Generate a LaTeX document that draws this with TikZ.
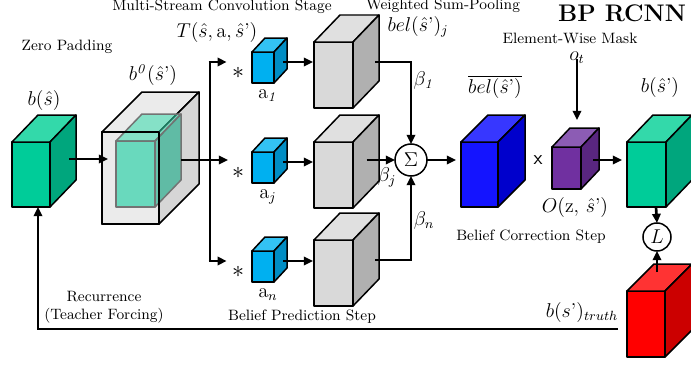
\documentclass[tikz,border=0pt]{standalone}
\usepackage{amsmath,amssymb}
\usepackage{tikz}
\usetikzlibrary{positioning,arrows.meta,calc}

\definecolor{tealF}{RGB}{0,204,153}
\definecolor{tealT}{RGB}{51,217,170}
\definecolor{tealS}{RGB}{0,166,125}
\definecolor{padF}{RGB}{235,235,235}
\definecolor{padS}{RGB}{214,214,214}
\definecolor{cyanF}{RGB}{0,176,240}
\definecolor{cyanT}{RGB}{51,194,243}
\definecolor{cyanS}{RGB}{0,141,196}
\definecolor{grayF}{RGB}{217,217,217}
\definecolor{grayT}{RGB}{224,224,224}
\definecolor{grayS}{RGB}{176,176,176}
\definecolor{blueF}{RGB}{20,20,255}
\definecolor{blueT}{RGB}{55,55,255}
\definecolor{blueS}{RGB}{0,0,204}
\definecolor{purpF}{RGB}{112,48,160}
\definecolor{purpT}{RGB}{140,92,180}
\definecolor{purpS}{RGB}{89,38,128}
\definecolor{redF}{RGB}{255,0,0}
\definecolor{redT}{RGB}{255,51,51}
\definecolor{redS}{RGB}{204,0,0}

\tikzset{
  >={Triangle[length=5.5pt,width=5pt]},
  cubeline/.style={draw=black,line width=0.9pt,line join=round},
  cubefront/.style={rectangle,cubeline,inner sep=0pt,outer sep=0pt},
  cubesz/.style 2 args={minimum width=#1*0.6pt,minimum height=#2*0.6pt},
  ghostline/.style={draw=black!55,line width=0.9pt,line join=round,fill opacity=0.55},
  flow/.style={->,line width=1.6pt},
  wire/.style={line width=1.6pt},
  steplbl/.style={font=\small,inner sep=1pt},
  mathlbl/.style={font=\large,inner sep=1pt},
  opnode/.style={circle,draw=black,line width=0.9pt,inner sep=0pt,fill=white,
    font=\large,outer sep=0pt},
}

% top and side faces behind a front face node
\newcommand{\cubeback}[6][cubeline]{%
  \draw[#1,fill=#5] (#2.north west) -- ++(#3,#4)
    -- ($(#2.north east)+(#3,#4)$) -- (#2.north east) -- cycle;
  \draw[#1,fill=#6] (#2.north east) -- ($(#2.north east)+(#3,#4)$)
    -- ($(#2.south east)+(#3,#4)$) -- (#2.south east) -- cycle;
}

\begin{document}
\begin{tikzpicture}[x=0.6pt,y=-0.6pt]
  \useasboundingbox (0,0) rectangle (691,367);

  % titles
  \node[steplbl] (ttlconv) at (222,7) {Multi-Stream Convolution Stage};
  \node[steplbl] (ttlpool) at (443,6) {Weighted Sum-Pooling};
  \node[font=\Large\bfseries,inner sep=1pt] (ttlbp) at (622,13) {BP RCNN};
  \node[steplbl] (ttlpad) at (67,47) {Zero Padding};

  % input belief
  \node[cubefront,cubesz={38}{65},fill=tealF] (bs) at (31,174.5) {};
  \cubeback{bs}{26}{-27}{tealT}{tealS}
  \node[mathlbl] (lbs) at (44,100) {$b(\hat{s})$};

  % zero padding
  \node[cubefront,cubesz={57}{92},fill=padF] (pad) at (130.5,178) {};
  \cubeback{pad}{40}{-40}{padF}{padS}
  \node[cubefront,cubesz={39}{66},ghostline,fill=tealF] (padin) at (135.5,174) {};
  \cubeback[ghostline]{padin}{26}{-27}{tealT}{tealS}
  \draw[cubeline] (pad.north west) rectangle (pad.south east);
  \node[mathlbl] (lb0) at (153,75) {$b^{\mathit{0}}(\hat{s}\text{'})$};
  \node[mathlbl] (lT) at (217,32) {$T(\hat{s},\mathrm{a},\hat{s}\text{'})$};

  % action kernels
  \foreach \k/\yy/\sub in {1/67.5/\mathit{1},j/167.5/j,n/266.5/n}{
    \node[cubefront,cubesz={22}{31},fill=cyanF] (a\k) at (263,\yy) {};
    \cubeback{a\k}{13}{-14}{cyanT}{cyanS}
    \node[mathlbl,below=3pt of a\k,xshift=3pt] (la\k) {$\mathrm{a}_{\sub}$};
    \node[font=\Large,inner sep=1pt] (ast\k) at (238,\yy+5) {$*$};
  }

  % predicted beliefs
  \foreach \k/\yy in {1/75,j/175,n/273}{
    \node[cubefront,cubesz={39}{66},fill=grayF] (g\k) at (333.5,\yy) {};
    \cubeback{g\k}{26}{-27}{grayT}{grayS}
  }
  \node[mathlbl] (lbel) at (418,27) {$bel(\hat{s}\text{'})_j$};

  % pooling
  \node[opnode,minimum size=19.2pt] (sig) at (411,160) {$\Sigma$};
  \node[mathlbl] (lbt1) at (424,80) {$\beta_{\mathit{1}}$};
  \node[mathlbl] (lbtj) at (387,177) {$\beta_j$};
  \node[mathlbl] (lbtn) at (424,221) {$\beta_n$};

  % correction
  \node[cubefront,cubesz={37}{65},fill=blueF] (blu) at (479.5,174.5) {};
  \cubeback{blu}{27}{-27}{blueT}{blueS}
  \node[mathlbl] (lbar) at (495,87) {$\overline{bel(\hat{s}\text{'})}$};
  \node[font=\large\sffamily,inner sep=1pt] (times) at (538,160) {x};
  \node[cubefront,cubesz={29}{42},fill=purpF] (obs) at (566.5,168) {};
  \cubeback{obs}{18}{-19}{purpT}{purpS}
  \node[steplbl] (ttlmask) at (570,38) {Element-Wise Mask};
  \node[mathlbl] (ot) at (577,58) {$o_t$};
  \node[mathlbl] (lO) at (575,207) {$O(\mathrm{z},\,\hat{s}\text{'})$};
  \node[steplbl] (ttlcor) at (531,237) {Belief Correction Step};
  \node[steplbl] (ttlpred) at (302,317) {Belief Prediction Step};

  % output and target
  \node[cubefront,cubesz={39}{65},fill=tealF] (bsp) at (646.5,174.5) {};
  \cubeback{bsp}{26}{-27}{tealT}{tealS}
  \node[mathlbl] (lbsp) at (660,87) {$b(\hat{s}\text{'})$};
  \node[cubefront,cubesz={38}{66},fill=redF] (red) at (646,324) {};
  \cubeback{red}{27}{-27}{redT}{redS}
  \node[mathlbl] (ltr) at (582,312) {$b(s\text{'})_{truth}$};
  \node[opnode,minimum size=16.8pt] (loss) at (657,237) {$L$};
  \node[steplbl,align=center] (ttlrec) at (104,307) {Recurrence\\(Teacher Forcing)};

  % connectors
  \draw[flow] ($(bs.north east)+(19,17)$) -- ($(pad.west)+(6,-19)$);
  \coordinate (br1) at (210,62);
  \coordinate (brn) at (210,261);
  \draw[wire] (br1) -- (brn);
  \draw[flow] ($(padin.north east)+(26,19)$) coordinate (pado) -- ($(pado -| br1)+(18,0)$);
  \draw[flow] ([xshift=-0.8pt]br1) -- ++(18,0);
  \draw[flow] ([xshift=-0.8pt]brn) -- ++(18,0);
  \foreach \k in {1,j,n}{
    \draw[flow] ($(a\k.east)+(9,-5.5)$) coordinate (a\k o) -- ($(a\k o -| g\k.west)+(-1,0)$);
  }
  \draw[flow] ($(g1.east)+(22,-13)$) -| (sig.north);
  \draw[flow] ($(gj.east)+(13.5,-15)$) -- (sig.west);
  \draw[flow] ($(gn.east)+(22,-13)$) -| (sig.south);
  \draw[flow] (sig.east) -- ($(blu.west |- sig.east)+(-5,0)$);
  \draw[flow] ($(ot.south)+(0,-7)$) -- ($(obs.north)+(10.5,-27)$);
  \draw[flow] ($(obs.east)+(12,-8)$) coordinate (obso) -- ($(obso -| bsp.west)+(-5,0)$);
  \draw[flow] ($(bsp.south)+(9.5,0)$) -- (loss.north);
  \draw[flow] ($(red.north)+(11,-19)$) -- (loss.south);
  \draw[flow] ($(red.west)+(-9,5)$) -| ($(bs.south)+(7,0)$);
\end{tikzpicture}
\end{document}
